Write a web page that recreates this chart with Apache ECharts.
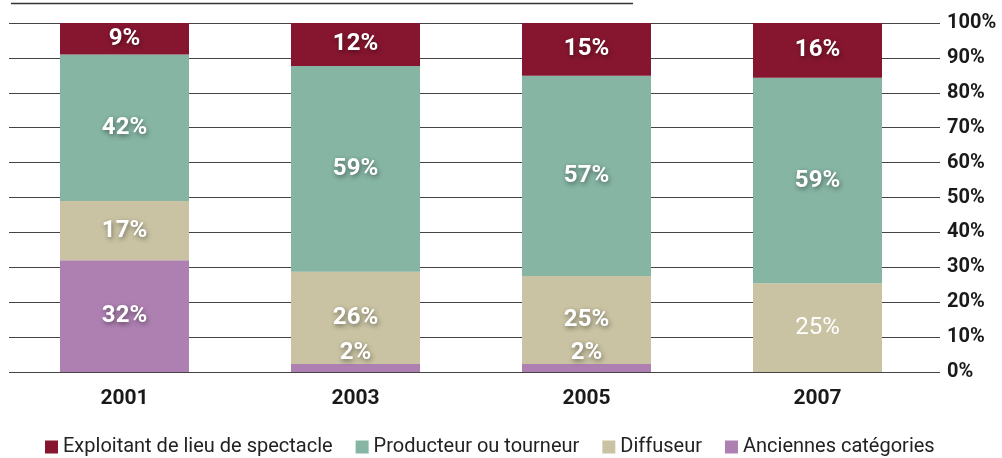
<!DOCTYPE html>
<html><head><meta charset="utf-8">
<script src="https://cdn.jsdelivr.net/npm/echarts@6/dist/echarts.min.js"></script>
<style>html,body{margin:0;padding:0;background:#fff}#c{width:1002px;height:458px}</style>
</head><body><div id="c"></div>
<script>
const years = ['2001','2003','2005','2007'];
const seriesNames = ['Exploitant de lieu de spectacle','Producteur ou tourneur','Diffuseur','Anciennes catégories'];
const exploitant = [9, 12.3, 15.1, 15.7];
const producteur = [42, 59.0, 57.4, 58.9];
const diffuseur = [17, 26.4, 25.2, 25.4];
const anciennes = [32, 2.3, 2.3, 0];
const yTicks = [0,10,20,30,40,50,60,70,80,90,100];
const colors = ['#86162F','#86B5A4','#C9C3A3','#AE80B2'];

const baseLabel = {
  show: true, position: 'inside', color: '#fff', fontFamily: 'Roboto', fontWeight: 'bold', fontSize: 24,
  textShadowColor: 'rgba(0,0,0,0.45)', textShadowBlur: 5, textShadowOffsetX: 1, textShadowOffsetY: 2,
  formatter: p => p.value > 0 ? Math.round(p.value) + '%' : ''
};
function mk(name, data, color) {
  return {
    name, type: 'bar', stack: 'total', barWidth: 129, z: 3,
    itemStyle: { color },
    label: Object.assign({}, baseLabel),
    data: data.map((v, i) => {
      const d = { value: v };
      if (name === 'Anciennes catégories' && v < 5) d.label = { position: 'top', distance: -1 };
      if (name === 'Diffuseur' && years[i] === '2007') d.label = { fontWeight: 'normal', textShadowBlur: 0, textShadowOffsetX: 0, textShadowOffsetY: 0, textShadowColor: 'transparent' };
      return d;
    })
  };
}
const chart = echarts.init(document.getElementById('c'), null, { renderer: 'canvas' });
chart.setOption({
  animation: false,
  grid: { left: 9, right: 69, top: 23, bottom: 86 },
  xAxis: {
    type: 'category', data: years,
    axisLine: { show: false }, axisTick: { show: false },
    axisLabel: { color: '#1a1a1a', fontFamily: 'Roboto', fontWeight: 'bold', fontSize: 21, margin: 16 }
  },
  yAxis: {
    type: 'value', position: 'right', min: 0, max: 100, interval: 10,
    axisLine: { show: false },
    axisTick: { show: true, length: 7, lineStyle: { color: '#444', width: 1 } },
    splitLine: { show: true, lineStyle: { color: '#444', width: 1 } },
    axisLabel: { color: '#1a1a1a', fontFamily: 'Roboto', fontWeight: 'bold', fontSize: 20, margin: 14,
      formatter: v => yTicks.includes(v) ? v + '%' : '' }
  },
  legend: {
    top: 432, left: 40, itemWidth: 13, itemHeight: 13, itemGap: 23, icon: 'rect',
    textStyle: { color: '#222', fontFamily: 'Roboto', fontSize: 20 },
    data: seriesNames
  },
  graphic: [{ type: 'line', shape: { x1: 11, y1: 3.5, x2: 633, y2: 3.5 }, style: { stroke: '#333', lineWidth: 1.5 } }],
  series: [
    mk(seriesNames[3], anciennes, colors[3]),
    mk(seriesNames[2], diffuseur, colors[2]),
    mk(seriesNames[1], producteur, colors[1]),
    mk(seriesNames[0], exploitant, colors[0])
  ]
});
</script></body></html>
